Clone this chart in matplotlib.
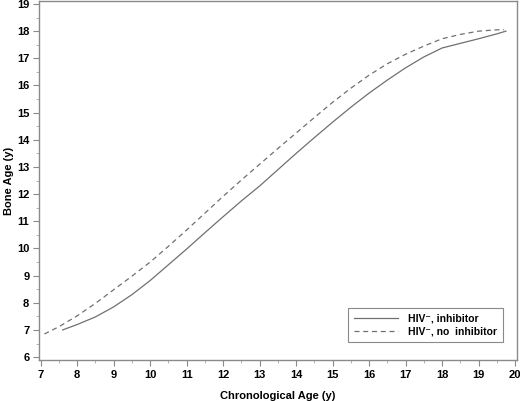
import matplotlib
matplotlib.use('Agg')
import matplotlib.pyplot as plt
from matplotlib.ticker import MultipleLocator

plt.rcParams['font.family'] = ['Liberation Sans', 'DejaVu Sans']

# curves
age_inhib = [7.6, 8.0, 8.5, 9.0, 9.5, 10.0, 10.5, 11.0, 11.5, 12.0, 12.5, 13.0, 13.5,
             14.0, 14.5, 15.0, 15.5, 16.0, 16.5, 17.0, 17.5, 18.0, 18.5, 19.0, 19.5, 19.75]
bone_inhib = [7.0, 7.2, 7.48, 7.85, 8.3, 8.82, 9.4, 9.98, 10.58, 11.17, 11.75, 12.3, 12.9,
              13.5, 14.08, 14.65, 15.2, 15.72, 16.2, 16.65, 17.05, 17.38, 17.55, 17.72, 17.9, 18.0]

age_noinhib = [7.1, 7.5, 8.0, 8.5, 9.0, 9.5, 10.0, 10.5, 11.0, 11.5, 12.0, 12.5, 13.0, 13.5,
               14.0, 14.5, 15.0, 15.5, 16.0, 16.5, 17.0, 17.5, 18.0, 18.5, 19.0, 19.5, 19.7]
bone_noinhib = [6.85, 7.12, 7.52, 7.98, 8.48, 8.98, 9.5, 10.08, 10.68, 11.3, 11.92, 12.52, 13.1, 13.68,
                14.25, 14.82, 15.38, 15.9, 16.38, 16.8, 17.15, 17.45, 17.72, 17.88, 18.0, 18.05, 18.05]

labels = ['HIV\u207b, inhibitor', 'HIV\u207b, no  inhibitor']

fig = plt.figure(figsize=(5.2, 4.01), dpi=100)
ax = fig.add_axes([0.075, 0.102, 0.919, 0.8955])

grey = '#707070'
ax.plot(age_inhib, bone_inhib, color=grey, lw=0.9, label=labels[0])
ax.plot(age_noinhib, bone_noinhib, color=grey, lw=0.9, dashes=(4, 3), label=labels[1])

ax.set_xlim(6.953, 20.05)
ax.set_ylim(5.89, 19.11)
ax.xaxis.set_major_locator(MultipleLocator(1))
ax.xaxis.set_minor_locator(MultipleLocator(0.5))
ax.yaxis.set_major_locator(MultipleLocator(1))
ax.yaxis.set_minor_locator(MultipleLocator(0.5))

for s in ax.spines.values():
    s.set_color('#8a8a8a')
    s.set_linewidth(1.0)

ax.tick_params(which='major', length=4, width=0.8, color='#8a8a8a',
               labelsize=8, pad=3)
ax.tick_params(which='minor', length=2, width=0.6, color='#aaaaaa')
for t in ax.get_xticklabels() + ax.get_yticklabels():
    t.set_fontweight('bold')

ax.set_xlabel('Chronological Age (y)', fontsize=8, fontweight='bold', labelpad=8)
ax.set_ylabel('Bone Age (y)', fontsize=8, fontweight='bold', labelpad=2)

leg = ax.legend(loc='lower right', bbox_to_anchor=(0.971, 0.05), borderaxespad=0,
                fancybox=False, framealpha=1, edgecolor='#8a8a8a',
                prop={'size': 7.5, 'weight': 'bold'}, handlelength=4.2,
                labelspacing=0.25, borderpad=0.55, handletextpad=1.0)
leg.get_frame().set_linewidth(0.8)

fig.savefig('out.png', dpi=100)
